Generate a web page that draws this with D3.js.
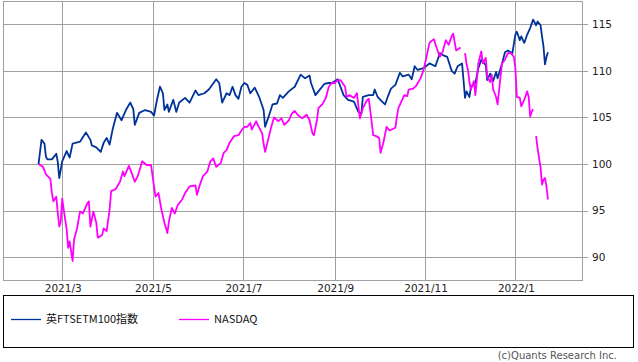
<!DOCTYPE html>
<html>
<head>
<meta charset="utf-8">
<script src="https://cdn.jsdelivr.net/npm/d3@7/dist/d3.min.js"></script>
<style>
  body { margin: 0; background: #fff; }
  svg { display: block; }
</style>
</head>
<body>
<svg id="chart" width="638" height="362"></svg>
<script>
// Series values (index, start = 100)
var ftseDates = ["2021-02-13","2021-02-15","2021-02-17","2021-02-18","2021-02-19","2021-02-22","2021-02-25","2021-02-26","2021-02-27",
  "2021-03-01","2021-03-04","2021-03-06","2021-03-08","2021-03-13","2021-03-17","2021-03-20","2021-03-21","2021-03-24","2021-03-27","2021-03-29","2021-03-31",
  "2021-04-02","2021-04-04","2021-04-07","2021-04-10","2021-04-13","2021-04-16","2021-04-18","2021-04-19","2021-04-22","2021-04-26","2021-04-30",
  "2021-05-02","2021-05-04","2021-05-06","2021-05-08","2021-05-09","2021-05-11","2021-05-12","2021-05-15","2021-05-17","2021-05-19","2021-05-23","2021-05-26","2021-05-30",
  "2021-06-01","2021-06-05","2021-06-08","2021-06-13","2021-06-15","2021-06-17","2021-06-20","2021-06-22","2021-06-24","2021-06-26","2021-06-28","2021-06-30",
  "2021-07-02","2021-07-04","2021-07-06","2021-07-09","2021-07-12","2021-07-15","2021-07-16","2021-07-18","2021-07-21","2021-07-24","2021-07-26","2021-07-28",
  "2021-08-01","2021-08-05","2021-08-09","2021-08-12","2021-08-15","2021-08-16","2021-08-19","2021-08-21","2021-08-25","2021-08-28","2021-08-30",
  "2021-09-01","2021-09-03","2021-09-07","2021-09-10","2021-09-14","2021-09-17","2021-09-19","2021-09-20","2021-09-24","2021-09-27","2021-09-28","2021-09-30",
  "2021-10-03","2021-10-05","2021-10-07","2021-10-09","2021-10-12","2021-10-15","2021-10-17","2021-10-21","2021-10-23","2021-10-25","2021-10-27","2021-10-31",
  "2021-11-04","2021-11-08","2021-11-11","2021-11-13","2021-11-16","2021-11-19","2021-11-21","2021-11-23","2021-11-26","2021-11-27","2021-11-28","2021-11-29",
  "2021-12-01","2021-12-02","2021-12-05","2021-12-07","2021-12-09","2021-12-12","2021-12-13","2021-12-15","2021-12-17","2021-12-19","2021-12-20","2021-12-23","2021-12-25","2021-12-27","2021-12-30",
  "2022-01-01","2022-01-02","2022-01-04","2022-01-05","2022-01-07","2022-01-09","2022-01-11","2022-01-13","2022-01-15","2022-01-16","2022-01-18","2022-01-19","2022-01-20","2022-01-21","2022-01-22","2022-01-23"];
var ftseValues = [100.0,102.6,102.2,100.8,100.5,100.5,101.1,100.2,98.5,
  100.3,101.4,100.7,102.2,102.4,103.4,102.6,102.0,101.8,101.3,102.3,102.8,
  102.1,103.7,105.5,104.7,105.8,106.6,105.9,104.2,105.5,105.8,105.6,
  105.2,106.9,108.3,107.6,105.8,106.4,105.6,106.9,105.6,106.6,107.1,106.6,107.9,
  107.4,107.6,108.0,109.1,108.7,106.6,107.6,107.4,108.3,107.4,107.0,108.3,
  108.7,108.5,107.6,108.2,107.2,105.8,104.0,104.9,106.4,106.5,107.4,107.1,
  107.8,108.3,109.6,109.2,109.5,108.7,107.4,107.8,108.6,108.7,108.7,
  108.9,109.1,107.4,106.9,106.7,105.6,105.4,107.2,107.4,107.4,108.0,107.2,
  106.7,106.4,107.3,108.1,108.5,109.8,109.4,109.6,109.1,110.5,110.1,110.3,
  110.8,110.5,111.9,111.7,111.5,110.0,109.7,110.5,110.8,109.0,107.1,107.8,
  107.2,108.3,108.7,110.3,111.2,110.6,109.0,109.7,108.9,109.9,109.2,110.8,112.0,112.2,111.9,
  113.9,114.2,113.3,113.7,113.0,113.9,114.6,115.5,114.9,115.3,114.9,113.7,112.6,110.7,111.5,112.0];

var nasdaqDates = ["2021-02-13","2021-02-16","2021-02-18","2021-02-21","2021-02-22","2021-02-23","2021-02-25","2021-02-26","2021-02-27","2021-02-28",
  "2021-03-01","2021-03-02","2021-03-04","2021-03-05","2021-03-06","2021-03-08","2021-03-09","2021-03-11","2021-03-13","2021-03-15","2021-03-18","2021-03-19","2021-03-20","2021-03-22","2021-03-24","2021-03-25","2021-03-28","2021-03-29","2021-03-31",
  "2021-04-02","2021-04-03","2021-04-06","2021-04-09","2021-04-11","2021-04-12","2021-04-15","2021-04-17","2021-04-19","2021-04-21","2021-04-24","2021-04-27","2021-04-30",
  "2021-05-01","2021-05-03","2021-05-05","2021-05-07","2021-05-09","2021-05-11","2021-05-12","2021-05-14","2021-05-16","2021-05-18","2021-05-21","2021-05-23","2021-05-26","2021-05-30","2021-05-31",
  "2021-06-02","2021-06-04","2021-06-07","2021-06-09","2021-06-11","2021-06-13","2021-06-16","2021-06-18","2021-06-20","2021-06-22","2021-06-25","2021-06-28","2021-06-30",
  "2021-07-02","2021-07-04","2021-07-06","2021-07-07","2021-07-10","2021-07-11","2021-07-14","2021-07-15","2021-07-16","2021-07-18","2021-07-20","2021-07-22","2021-07-25","2021-07-27","2021-07-29",
  "2021-08-01","2021-08-03","2021-08-05","2021-08-07","2021-08-10","2021-08-13","2021-08-15","2021-08-17","2021-08-18","2021-08-20","2021-08-21","2021-08-24","2021-08-26","2021-08-28","2021-08-30",
  "2021-09-01","2021-09-03","2021-09-05","2021-09-08","2021-09-09","2021-09-11","2021-09-14","2021-09-16","2021-09-18","2021-09-20","2021-09-23","2021-09-24","2021-09-25","2021-09-27","2021-09-29",
  "2021-10-01","2021-10-02","2021-10-04","2021-10-06","2021-10-08","2021-10-12","2021-10-13","2021-10-14","2021-10-16","2021-10-18","2021-10-20","2021-10-21","2021-10-24","2021-10-26","2021-10-29","2021-10-31",
  "2021-11-02","2021-11-04","2021-11-06","2021-11-07","2021-11-09","2021-11-11","2021-11-13","2021-11-15","2021-11-17","2021-11-19","2021-11-20","2021-11-22","2021-11-23","2021-11-25","2021-11-26","2021-11-28","2021-11-29","2021-11-30",
  "2021-12-01","2021-12-02","2021-12-04","2021-12-05","2021-12-07","2021-12-09","2021-12-10","2021-12-12","2021-12-13","2021-12-15","2021-12-16","2021-12-17","2021-12-19","2021-12-20","2021-12-22","2021-12-23","2021-12-25","2021-12-27","2021-12-29","2021-12-31",
  "2022-01-01","2022-01-02","2022-01-04","2022-01-05","2022-01-07","2022-01-09","2022-01-10","2022-01-11","2022-01-12","2022-01-13","2022-01-14","2022-01-15","2022-01-16","2022-01-17","2022-01-18","2022-01-19","2022-01-20","2022-01-21","2022-01-22","2022-01-23"];
var nasdaqValues = [100.0,99.7,98.9,98.4,96.9,96.0,96.5,94.7,93.3,93.8,
  96.3,95.1,93.0,91.0,91.7,89.6,91.9,93.1,94.9,94.7,95.8,96.0,93.3,94.9,93.7,92.1,92.4,93.1,92.8,
  95.1,97.1,97.3,98.1,99.2,98.7,99.8,99.0,98.1,98.7,100.3,99.9,99.9,
  98.7,96.5,96.9,95.1,93.7,92.6,93.8,95.3,94.7,95.6,96.2,96.9,97.6,97.7,96.7,
  97.8,98.7,99.2,100.3,100.6,99.7,100.1,101.2,101.5,102.3,103.0,103.1,103.6,
  104.0,104.0,104.4,103.7,104.6,104.2,103.3,102.2,101.3,102.6,103.9,105.0,104.6,104.9,104.2,
  104.7,105.4,105.7,105.3,104.9,105.3,104.7,103.3,103.1,104.7,106.0,106.5,107.1,108.3,108.7,
  108.7,109.0,109.0,108.3,107.2,107.4,107.1,107.6,104.9,106.0,106.9,107.0,105.8,103.1,103.0,
  102.8,101.2,102.4,104.0,103.6,103.9,105.1,106.0,106.7,107.4,107.3,108.0,108.1,108.4,109.2,110.1,
  111.5,113.0,113.3,113.4,112.4,111.5,112.1,113.3,112.8,113.7,114.0,112.2,112.3,112.5,null,111.9,110.8,110.1,
  108.8,108.0,108.9,107.4,110.8,112.1,110.8,111.4,109.4,108.8,109.6,108.0,107.2,106.4,109.4,110.8,111.2,111.9,111.9,111.5,
  110.3,107.2,107.1,106.2,106.9,107.8,107.2,105.1,105.6,105.9,null,103.0,101.7,100.6,99.7,97.8,98.3,98.5,97.6,96.2];

var seriesNames = ["英FTSETM100指数", "NASDAQ"];
var seriesColors = ["#003399", "#ff00ff"];
var yTicks = [90, 95, 100, 105, 110, 115];
var xTicks = ["2021-03-01", "2021-05-01", "2021-07-01", "2021-09-01", "2021-11-01", "2022-01-01"];
var xTickLabels = ["2021/3", "2021/5", "2021/7", "2021/9", "2021/11", "2022/1"];

var svg = d3.select("#chart"),
    plot = {left: 3, right: 582, top: 1, bottom: 280};

var parse = d3.utcParse("%Y-%m-%d");

var x = d3.scaleUtc()
    .domain([parse("2021-01-20"), parse("2022-02-15")])
    .range([plot.left, plot.right]);

var y = d3.scaleLinear()
    .domain([87.56, 117.5])
    .range([plot.bottom, plot.top]);

var grid = svg.append("g")
    .attr("stroke", "#a0a0a0")
    .attr("stroke-width", 1)
    .attr("shape-rendering", "crispEdges");

// horizontal grid + right-side tick marks
grid.selectAll(".hgrid")
    .data(yTicks)
    .enter().append("line")
    .attr("x1", plot.left)
    .attr("x2", plot.right + 6)
    .attr("y1", d => Math.round(y(d)) + 0.5)
    .attr("y2", d => Math.round(y(d)) + 0.5);

grid.selectAll(".vgrid")
    .data(xTicks)
    .enter().append("line")
    .attr("x1", d => Math.round(x(parse(d))) + 0.5)
    .attr("x2", d => Math.round(x(parse(d))) + 0.5)
    .attr("y1", plot.top)
    .attr("y2", plot.bottom);

// plot frame
grid.append("rect")
    .attr("x", plot.left + 0.5)
    .attr("y", plot.top + 0.5)
    .attr("width", plot.right - plot.left)
    .attr("height", plot.bottom - plot.top)
    .attr("fill", "none");

// axis labels
svg.append("g").selectAll("text")
    .data(yTicks)
    .enter().append("text")
    .attr("x", plot.right + 10)
    .attr("y", d => y(d))
    .attr("dy", "0.35em")
    .style("font-family", "DejaVu Sans, sans-serif")
    .style("font-size", "10.5px")
    .style("fill", "#222")
    .text(d => d);

svg.append("g").selectAll("text")
    .data(xTicks)
    .enter().append("text")
    .attr("x", d => x(parse(d)) + 1)
    .attr("y", plot.bottom + 12)
    .style("text-anchor", "middle")
    .style("font-family", "DejaVu Sans, sans-serif")
    .style("font-size", "10.5px")
    .style("fill", "#222")
    .text((d, i) => xTickLabels[i]);

// lines
var line = d3.line()
    .defined(d => d.v !== null)
    .x(d => x(d.date))
    .y(d => y(d.v));

var series = [
    ftseDates.map((d, i) => ({date: parse(d), v: ftseValues[i]})),
    nasdaqDates.map((d, i) => ({date: parse(d), v: nasdaqValues[i]}))
];

// NASDAQ drawn on top? FTSE seems under magenta in overlaps
svg.append("g").selectAll("path")
    .data(series)
    .enter().append("path")
    .attr("d", line)
    .attr("fill", "none")
    .attr("stroke", (d, i) => seriesColors[i])
    .attr("stroke-width", 1.8)
    .attr("stroke-linejoin", "round");

// Legend
var legend = svg.append("g");

legend.append("rect")
    .attr("x", 3.5)
    .attr("y", 295.5)
    .attr("width", 630)
    .attr("height", 52)
    .attr("fill", "none")
    .attr("stroke", "#000")
    .attr("stroke-width", 1);

var legendX = [11, 179];
legend.selectAll("line")
    .data(seriesNames)
    .enter().append("line")
    .attr("x1", (d, i) => legendX[i])
    .attr("x2", (d, i) => legendX[i] + 30)
    .attr("y1", 319.5)
    .attr("y2", 319.5)
    .attr("stroke", (d, i) => seriesColors[i])
    .attr("stroke-width", 1.3);

legend.selectAll("text")
    .data(seriesNames)
    .enter().append("text")
    .attr("x", (d, i) => legendX[i] + 35)
    .attr("y", 319.5)
    .attr("dy", "0.36em")
    .style("font-family", "Noto Sans CJK JP, sans-serif")
    .style("font-size", "11px")
    .style("fill", "#111")
    .text(d => d);

svg.append("text")
    .attr("x", 617)
    .attr("y", 359)
    .style("text-anchor", "end")
    .style("font-family", "DejaVu Sans, sans-serif")
    .style("font-size", "10px")
    .style("fill", "#555")
    .text("(c)Quants Research Inc.");
</script>
</body>
</html>
